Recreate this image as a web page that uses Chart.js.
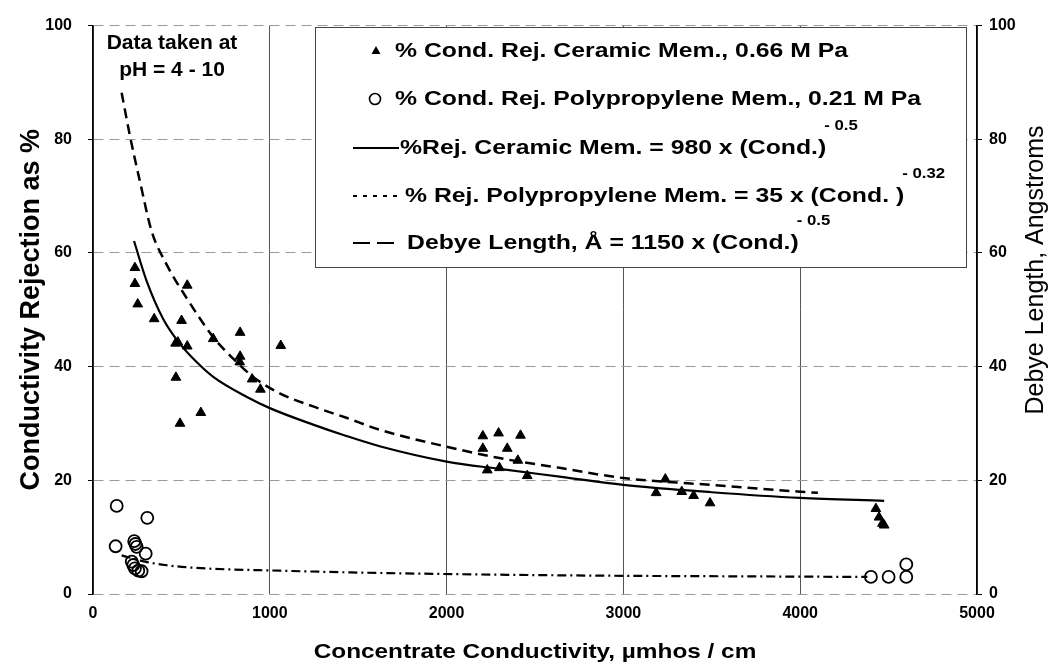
<!DOCTYPE html>
<html>
<head>
<meta charset="utf-8">
<script src="https://cdn.jsdelivr.net/npm/chart.js@4/dist/chart.umd.min.js"></script>
<style>
  html, body { margin: 0; padding: 0; background: #fff; }
  #wrap { width: 1055px; height: 669px; }
</style>
</head>
<body>
<div id="wrap"><canvas id="chart" width="1055" height="669"></canvas></div>
<script>
// Datos (conductividad en µmhos/cm)
const ceramicX = [237, 237, 253, 346, 533, 501, 467, 480, 533, 469, 492, 610, 680, 832, 832, 830, 900, 947, 1062,
  2205, 2294, 2418, 2205, 2343, 2403, 2230, 2299, 2456,
  3237, 3185, 3330, 3397, 3490,
  4428, 4446, 4465, 4475];
const ceramicY = [57.4, 54.6, 51.0, 48.4, 54.3, 48.1, 44.1, 44.3, 43.6, 38.1, 30.0, 31.9, 44.9, 46.0, 41.8, 40.8, 37.8, 36.0, 43.7,
  27.8, 28.3, 27.9, 25.6, 25.6, 23.5, 21.8, 22.2, 20.8,
  20.2, 17.8, 18.0, 17.3, 16.0,
  15.0, 13.5, 12.4, 12.1];

const polyX = [134, 307, 128, 233, 240, 247, 298, 219, 228, 237, 256, 275, 4400, 4500, 4600, 4600];
const polyY = [15.5, 13.4, 8.4, 9.3, 8.8, 8.3, 7.1, 5.7, 5.1, 4.5, 4.1, 4.0, 3.0, 3.0, 3.0, 5.2];

// curva ajustada, membrana cerámica
const ceramicFitX = [232, 303, 397, 492, 586, 680, 868, 1000, 1245, 1433, 1621, 2000, 2300, 2650, 3000, 3500, 4000, 4475];
const ceramicFitY = [62.1, 55.1, 48.4, 44.0, 40.8, 38.2, 34.7, 32.7, 29.8, 27.8, 26.0, 23.3, 22.0, 20.6, 19.2, 17.9, 16.9, 16.4];

// curva ajustada, polipropileno
const polyFitX = [162, 294, 407, 576, 1056, 1621, 2283, 3000, 3700, 4380];
const polyFitY = [6.8, 5.7, 5.1, 4.6, 4.1, 3.7, 3.4, 3.2, 3.1, 3.0];

// longitud de Debye (eje derecho)
const debyeX = [162, 209, 266, 332, 416, 529, 680, 793, 906, 1056, 1245, 1433, 1621, 2073, 2283, 2638, 3000, 3495, 4000, 4100];
const debyeY = [88.2, 80.6, 72.5, 63.8, 58.0, 52.1, 45.2, 41.4, 38.2, 35.3, 33.0, 31.0, 28.9, 25.4, 24.0, 22.2, 20.4, 19.2, 18.0, 17.8];

const yTicks = [0, 20, 40, 60, 80, 100];
const xTicks = [0, 1000, 2000, 3000, 4000, 5000];

const legendLabels = [
  '% Cond. Rej. Ceramic Mem., 0.66 M Pa',
  '% Cond. Rej. Polypropylene Mem., 0.21 M Pa',
  '%Rej. Ceramic Mem. = 980 x (Cond.)',
  '% Rej. Polypropylene Mem. = 35 x (Cond. )',
  'Debye Length, Å = 1150 x (Cond.)'
];
const legendExponents = ['', '', '- 0.5', '- 0.32', '- 0.5'];
const noteLines = ['Data taken at', 'pH = 4 - 10'];
const xTitle = 'Concentrate Conductivity, µmhos / cm';
const y2Title = 'Debye Length, Angstroms';

const FONT = '"Liberation Sans", Arial, sans-serif';

const toPoints = (xs, ys) => xs.map((x, i) => ({ x: x, y: ys[i] }));

// texto ensanchado horizontalmente (la fuente del original es más ancha)
function wideText(ctx, text, x, y, sx, align) {
  ctx.save();
  ctx.translate(x, y);
  ctx.scale(sx, 1);
  ctx.textAlign = align;
  ctx.fillText(text, 0, 0);
  ctx.restore();
  return ctx.measureText(text).width * sx;
}

// Leyenda dibujada a mano (con exponentes) y textos sueltos
const boxLegend = {
  id: 'boxLegend',
  afterDraw(chart) {
    const ctx = chart.ctx;
    ctx.save();
    ctx.fillStyle = '#fff';
    ctx.fillRect(315, 27, 651, 240);
    ctx.strokeStyle = '#444';
    ctx.lineWidth = 1;
    ctx.strokeRect(315.5, 27.5, 651, 240);

    const rows = [51, 99, 148, 196, 243];
    const textX = [395, 395, 400, 405, 407];
    ctx.fillStyle = '#000';
    ctx.strokeStyle = '#000';

    // triángulo
    ctx.beginPath();
    ctx.moveTo(376, rows[0] - 5);
    ctx.lineTo(380.5, rows[0] + 3);
    ctx.lineTo(371.5, rows[0] + 3);
    ctx.closePath();
    ctx.fill();
    // círculo
    ctx.lineWidth = 1.6;
    ctx.beginPath();
    ctx.arc(375, rows[1], 5.5, 0, Math.PI * 2);
    ctx.stroke();
    // líneas
    const dashes = [[], [4, 6], [17, 7]];
    [2, 3, 4].forEach((r, k) => {
      ctx.save();
      ctx.lineWidth = 2;
      ctx.setLineDash(dashes[k]);
      ctx.beginPath();
      ctx.moveTo(353, rows[r]);
      ctx.lineTo(399, rows[r]);
      ctx.stroke();
      ctx.restore();
    });

    ctx.textBaseline = 'middle';
    legendLabels.forEach((t, i) => {
      ctx.font = 'bold 21px ' + FONT;
      const w = wideText(ctx, t, textX[i], rows[i], 1.18, 'left');
      if (legendExponents[i]) {
        ctx.font = 'bold 15px ' + FONT;
        wideText(ctx, legendExponents[i], textX[i] + w - 2, rows[i] - 22, 1.12, 'left');
      }
    });

    // nota de pH
    ctx.font = 'bold 21px ' + FONT;
    ctx.textAlign = 'center';
    ctx.fillText(noteLines[0], 172, 43);
    ctx.fillText(noteLines[1], 172, 70);

    // título eje x
    ctx.font = 'bold 21px ' + FONT;
    wideText(ctx, xTitle, (chart.chartArea.left + chart.chartArea.right) / 2, 652, 1.16, 'center');

    // título del eje derecho (de abajo hacia arriba)
    ctx.translate(1036, 270);
    ctx.rotate(-Math.PI / 2);
    ctx.font = '25px ' + FONT;
    ctx.textAlign = 'center';
    ctx.fillText(y2Title, 0, 0);
    ctx.restore();
  }
};

new Chart(document.getElementById('chart'), {
  type: 'scatter',
  data: {
    datasets: [
      {
        label: legendLabels[0],
        data: toPoints(ceramicX, ceramicY),
        pointStyle: 'triangle',
        pointRadius: 5.6,
        backgroundColor: '#000',
        borderColor: '#000',
        borderWidth: 1
      },
      {
        label: legendLabels[1],
        data: toPoints(polyX, polyY),
        pointStyle: 'circle',
        pointRadius: 6,
        backgroundColor: 'rgba(0,0,0,0)',
        borderColor: '#000',
        borderWidth: 1.8
      },
      {
        label: legendLabels[2],
        data: toPoints(ceramicFitX, ceramicFitY),
        showLine: true,
        pointRadius: 0,
        borderColor: '#000',
        borderWidth: 2.2,
        cubicInterpolationMode: 'monotone'
      },
      {
        label: legendLabels[3],
        data: toPoints(polyFitX, polyFitY),
        showLine: true,
        pointRadius: 0,
        borderColor: '#000',
        borderWidth: 2.2,
        borderDash: [9, 4, 2, 4],
        cubicInterpolationMode: 'monotone'
      },
      {
        label: legendLabels[4],
        data: toPoints(debyeX, debyeY),
        yAxisID: 'y2',
        showLine: true,
        pointRadius: 0,
        borderColor: '#000',
        borderWidth: 2.5,
        borderDash: [10, 6],
        cubicInterpolationMode: 'monotone'
      }
    ]
  },
  options: {
    responsive: false,
    animation: false,
    devicePixelRatio: 1,
    layout: { padding: { top: 19, left: 0, right: 0, bottom: 0 } },
    plugins: {
      legend: { display: false },
      tooltip: { enabled: false }
    },
    scales: {
      x: {
        type: 'linear',
        min: 0, max: 5000,
        afterBuildTicks: s => { s.ticks = xTicks.map(v => ({ value: v })); },
        afterFit: s => { s.height = 75; },
        ticks: {
          color: '#000', font: { family: FONT, size: 16, weight: 'bold' }, padding: 10, maxRotation: 0,
          callback: v => String(v)
        },
        grid: { color: '#555', lineWidth: 1, drawTicks: false },
        border: { display: false }
      },
      y: {
        position: 'left',
        min: 0, max: 100,
        afterBuildTicks: s => { s.ticks = yTicks.map(v => ({ value: v })); },
        afterFit: s => { s.width = 93; },
        ticks: { color: '#000', font: { family: FONT, size: 16, weight: 'bold' }, padding: 16 },
        grid: { color: '#999', lineWidth: 1, tickLength: 5, tickColor: '#000' },
        border: { display: true, color: '#000', width: 1.5, dash: [10, 6] },
        title: {
          display: true,
          text: 'Conductivity Rejection as %',
          color: '#000',
          font: { family: FONT, size: 27, weight: 'bold' },
          padding: { top: 15, bottom: 0 }
        }
      },
      y2: {
        position: 'right',
        min: 0, max: 100,
        afterBuildTicks: s => { s.ticks = yTicks.map(v => ({ value: v })); },
        afterFit: s => { s.width = 78; },
        ticks: { color: '#000', font: { family: FONT, size: 16, weight: 'bold' }, padding: 7 },
        grid: { drawOnChartArea: false, tickLength: 5, tickColor: '#000' },
        border: { display: true, color: '#000', width: 1.5 }
      }
    }
  },
  plugins: [boxLegend]
});
</script>
</body>
</html>
